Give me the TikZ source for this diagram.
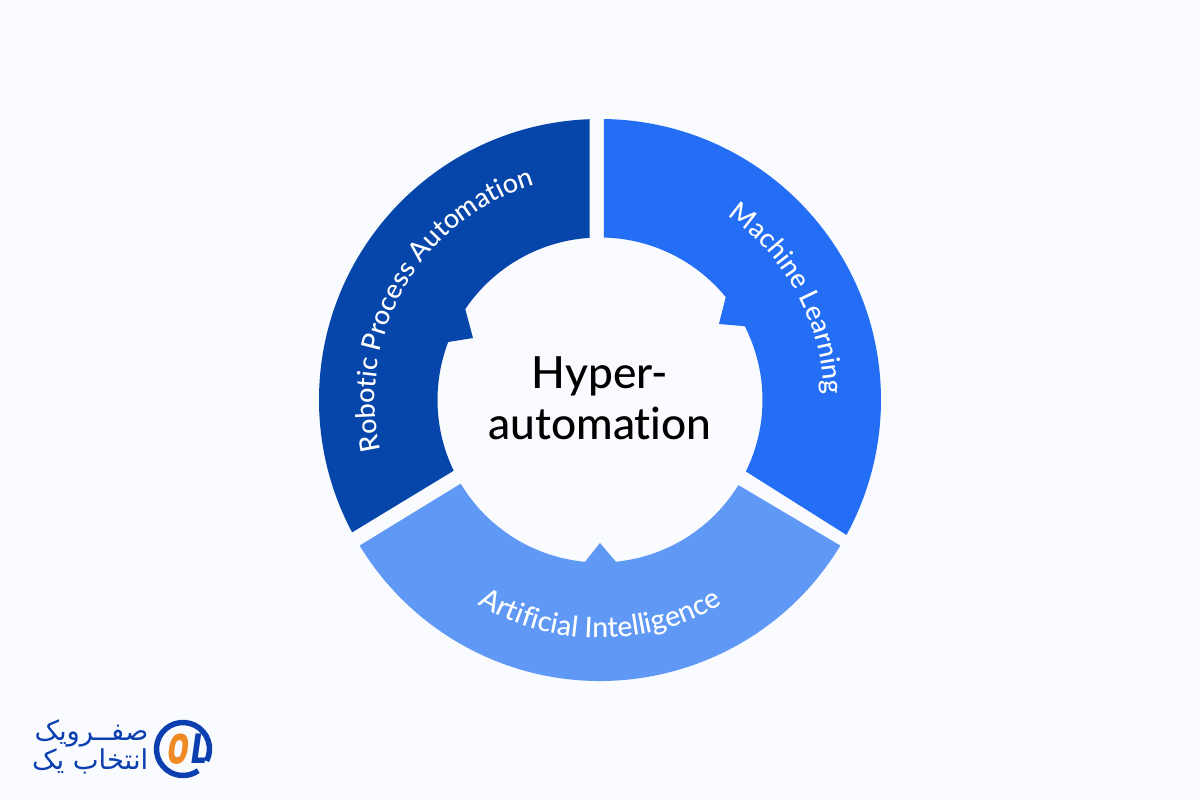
\documentclass[tikz,border=0pt]{standalone}
\usepackage{fontspec}
\setmainfont{Lato Medium}[Ligatures=NoCommon]
\newfontfamily\arabicfont[Script=Arabic]{DejaVu Sans}
\newfontfamily\logofont{Poppins}
\TeXXeTstate=1
\usetikzlibrary{decorations.text}
\definecolor{pagebg}{HTML}{F9FBFF}
\definecolor{rpablue}{HTML}{0646AB}
\definecolor{mlblue}{HTML}{236EF5}
\definecolor{aiblue}{HTML}{5F99F5}
\definecolor{logoblue}{HTML}{0B3FB0}
\definecolor{logoorange}{HTML}{F08A24}
\tikzset{
  seglabel/.style={decorate, decoration={text along path, text align=center, raise=0pt,
      text format delimiters={|}{|}, text={#1}}},
  logotext/.style={text=logoblue, font=\arabicfont\fontsize{7.8pt}{9pt}\selectfont, inner sep=0pt},
  logomark/.style={font=\logofont\bfseries\itshape\fontsize{10pt}{11pt}\selectfont, inner sep=0pt, xscale=.95, yscale=1.2, transform shape},
}
\begin{document}
\begin{tikzpicture}
\useasboundingbox[fill=pagebg] (-6,-4) rectangle (6,4);
% ring segments
\fill[rpablue] (92.1:2.81) arc[start angle=92.1, end angle=208.1, radius=2.81]
  -- (205.8:1.625) arc[start angle=205.8, end angle=159.1, radius=1.625]
  -- (-1.27,.62) -- (146:1.625) arc[start angle=146, end angle=93.7, radius=1.625] -- cycle;
\fill[mlblue] (89.2:2.81) arc[start angle=89.2, end angle=-28.7, radius=2.81]
  -- (-26.1:1.625) arc[start angle=-26.1, end angle=27, radius=1.625]
  -- (1.19,.76) -- (39.3:1.625) arc[start angle=39.3, end angle=88.6, radius=1.625] -- cycle;
\fill[aiblue] (-31.2:2.81) arc[start angle=-31.2, end angle=-148.8, radius=2.81]
  -- (211:1.625) arc[start angle=211, end angle=264.7, radius=1.625]
  -- (0,-1.43) -- (275.6:1.625) arc[start angle=275.6, end angle=328.4, radius=1.625] -- cycle;
% labels on the ring
\path[seglabel={|\fontsize{7.65pt}{8pt}\selectfont\color{white}|Robotic Process Automation}]
  (199.9:2.25) arc[start angle=199.9, end angle=99.9, radius=2.25];
\path[seglabel={|\fontsize{7.65pt}{8pt}\selectfont\color{white}|Machine Learning}]
  (71:2.24) arc[start angle=71, end angle=-14.4, radius=2.24];
\path[seglabel={|\fontsize{8.1pt}{8pt}\selectfont\color{white}|Artificial Intelligence}]
  (215:2.38) arc[start angle=215, end angle=325, radius=2.38];
% centre
\node[align=center, font=\fontsize{12.6pt}{14.4pt}\selectfont, inner sep=0pt] (title) at (0,.02) {Hyper-\\automation};
% logo
\node[logotext, anchor=east] (logotop) at (-4.51,-3.33) {\beginR صفــرویک\endR};
\node[logotext, anchor=east] (logobottom) at (-4.51,-3.61) {\beginR انتخاب یک\endR};
\draw[logoblue, line width=.055cm] (-27:.265) ++(-4.17,-3.49) arc[start angle=-27, end angle=305, radius=.265];
\node[logomark, text=logoorange] (logoo) at (-4.22,-3.49) {0};
\node[logomark, text=logoblue] (logol) at (-4.01,-3.49) {L};
\end{tikzpicture}
\end{document}
